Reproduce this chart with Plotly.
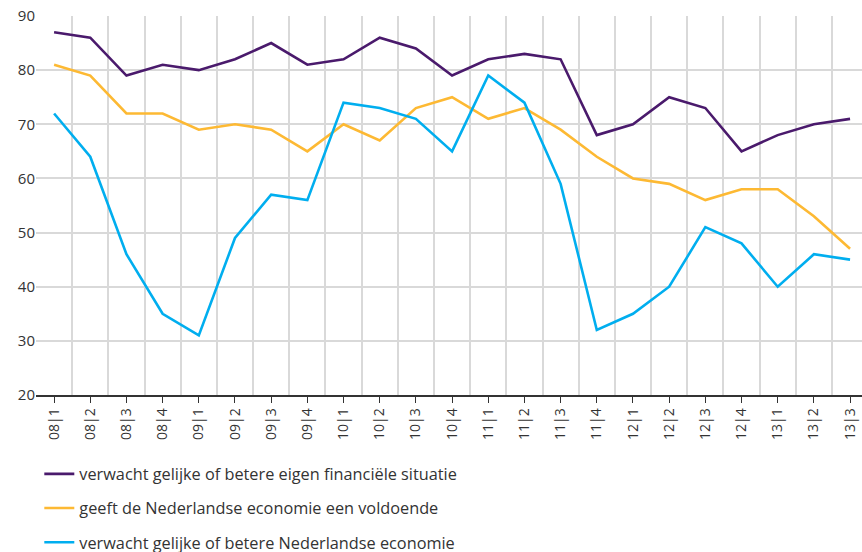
import plotly.graph_objects as go

categories = ["08|1", "08|2", "08|3", "08|4", "09|1", "09|2", "09|3", "09|4",
              "10|1", "10|2", "10|3", "10|4", "11|1", "11|2", "11|3", "11|4",
              "12|1", "12|2", "12|3", "12|4", "13|1", "13|2", "13|3"]

eigen_financieel = [87, 86, 79, 81, 80, 82, 85, 81, 82, 86, 84, 79, 82, 83, 82, 68,
                    70, 75, 73, 65, 68, 70, 71]
economie_voldoende = [81, 79, 72, 72, 69, 70, 69, 65, 70, 67, 73, 75, 71, 73, 69, 64,
                      60, 59, 56, 58, 58, 53, 47]
betere_economie = [72, 64, 46, 35, 31, 49, 57, 56, 74, 73, 71, 65, 79, 74, 59, 32,
                   35, 40, 51, 48, 40, 46, 45]

series_names = ["verwacht gelijke of betere eigen financiële situatie",
                "geeft de Nederlandse economie een voldoende",
                "verwacht gelijke of betere Nederlandse economie"]
series_colors = ["#4a1a6c", "#fdb933", "#00aeef"]
y_ticks = [20, 30, 40, 50, 60, 70, 80, 90]

x_idx = list(range(len(categories)))
fig = go.Figure()
for i, (name, vals, col) in enumerate(zip(series_names,
                                          [eigen_financieel, economie_voldoende, betere_economie],
                                          series_colors)):
    fig.add_trace(go.Scatter(x=x_idx, y=vals, mode="lines", name=name,
                             legendgroup=f"g{i}",
                             line=dict(color=col, width=2.6)))

font_family = "Open Sans, Lato, sans-serif"
fig.update_layout(
    width=862, height=552,
    margin=dict(l=36, r=0, t=16, b=157, autoexpand=False),
    plot_bgcolor="white", paper_bgcolor="white",
    font=dict(family=font_family, size=14, color="#333333"),
    showlegend=True,
    legend=dict(x=0.004, y=-0.163, xanchor="left", yanchor="top",
                orientation="v", tracegroupgap=10,
                font=dict(size=16.3, color="#333333"),
                bgcolor="rgba(0,0,0,0)"),
    xaxis=dict(
        range=[-0.5, 22.33], automargin=False,
        tickmode="array", tickvals=x_idx, ticktext=categories,
        tickangle=-90, ticks="outside", ticklen=6, tickcolor="#333333",
        tickfont=dict(size=14, color="#333333"),
        showgrid=False, zeroline=False,
        showline=True, linecolor="#333333", linewidth=1.5,
        minor=dict(tickmode="linear", tick0=-0.5, dtick=1, showgrid=True,
                   gridcolor="#d9d9d9", gridwidth=1.5, ticks=""),
    ),
    yaxis=dict(
        range=[20, 90], tickmode="array", tickvals=y_ticks, automargin=False,
        showgrid=True, gridcolor="#d9d9d9", gridwidth=1.5,
        zeroline=False, showline=False, ticks="",
        tickfont=dict(size=15, color="#333333"),
    ),
)
fig.write_html("out.html", config={"displayModeBar": False},
               post_script="document.body.style.margin='0';document.body.style.overflow='hidden';")
